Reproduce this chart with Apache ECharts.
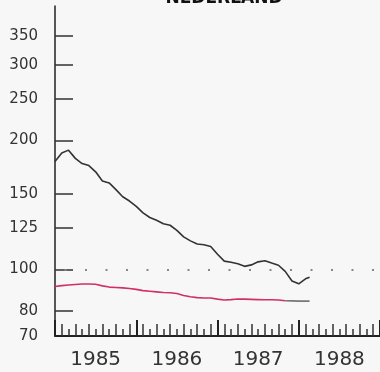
<!DOCTYPE html>
<html>
<head>
<meta charset="utf-8">
<script src="https://cdn.jsdelivr.net/npm/echarts@6/dist/echarts.min.js"></script>
<style>
html,body{margin:0;padding:0;background:#f7f7f7;}
#c{width:380px;height:372px;}
</style>
</head>
<body>
<div id="c"></div>
<script>
// months since Jan 1985
var months = [0,1,2,3,4,5,6,7,8,9,10,11,12,13,14,15,16,17,18,19,20,21,22,23,24,25,26,27,28,29,30,31,32,33,34,35,36,37,37.6];
var blackSeries = [178.5,186.8,189.7,181.5,176.5,174.6,168.9,160.7,159.1,153.5,147.7,144.4,140.3,135.5,132.2,130.2,127.8,126.8,123.4,119.1,116.6,114.7,114.2,113.1,108.5,104.6,104.0,103.1,101.7,102.5,104.2,104.8,103.5,102.3,99.0,94.0,92.6,95.1,95.9];
var redSeries = [91.3,91.7,92.0,92.3,92.5,92.5,92.4,91.6,91.0,90.8,90.6,90.3,89.9,89.3,89.0,88.7,88.4,88.3,87.9,87.0,86.4,86.0,85.8,85.8,85.3,84.9,85.1,85.4,85.3,85.2,85.1,85.0,85.0,84.9,84.6,84.5,84.4,84.4,84.4];
var redGrayFrom = 34; // index where the red line turns grey
var yTickLabels = [70,80,100,125,150,200,250,300,350];
var yearLabels = ['1985','1986','1987','1988'];
var yearLabelPos = [6,18,30,42];
var yearTickPos = [0,12,24,36,48];
var refValue = 100;
var titleText = 'NEDERLAND';

function pairs(xs, ys){ return xs.map(function(x,i){ return [x, ys[i]]; }); }
var oddMonths = [];
for (var m = 1; m < 48; m += 2) oddMonths.push(m);
var redAll = pairs(months, redSeries);

var font = 'DejaVu Sans';
var chart = echarts.init(document.getElementById('c'), null, {renderer:'canvas'});
chart.setOption({
  backgroundColor: '#f7f7f7',
  animation: false,
  title: {
    text: titleText, left: 219, textAlign: 'center', top: -15,
    textStyle: {fontFamily: font, fontWeight: 'bold', fontSize: 17, color: '#111'}
  },
  grid: {left: 55, right: -3, top: 6, bottom: 36, containLabel: false},
  xAxis: [
    {
      type: 'value', min: 0, max: 48, interval: 1, position: 'bottom',
      axisLine: {show: true, lineStyle: {color: '#222', width: 2}},
      axisTick: {show: true, inside: true, length: 7, lineStyle: {color: '#333', width: 1.5}},
      axisLabel: {
        show: true, customValues: yearLabelPos, margin: 14,
        fontFamily: font, fontSize: 20, color: '#333',
        formatter: function(v){ var i = yearLabelPos.indexOf(Math.round(v)); return i >= 0 ? yearLabels[i] : ''; }
      },
      splitLine: {show: false}
    },
    {
      type: 'value', min: 0, max: 48, position: 'bottom', offset: 0,
      axisLine: {show: false},
      axisTick: {show: true, inside: true, length: 12, customValues: oddMonths, lineStyle: {color: '#333', width: 1.5}},
      axisLabel: {show: false},
      splitLine: {show: false}
    },
    {
      type: 'value', min: 0, max: 48, position: 'bottom', offset: 0,
      axisLine: {show: false},
      axisTick: {show: true, inside: true, length: 16, customValues: yearTickPos, lineStyle: {color: '#222', width: 2}},
      axisLabel: {show: false},
      splitLine: {show: false}
    }
  ],
  yAxis: {
    type: 'log', logBase: 10, min: 70, max: 411,
    axisLine: {show: true, lineStyle: {color: '#222', width: 1.5}},
    axisTick: {show: true, inside: true, length: 18, customValues: yTickLabels.slice(1), lineStyle: {color: '#333', width: 1.5}},
    axisLabel: {show: true, customValues: yTickLabels, margin: 17, fontFamily: font, fontSize: 15, color: '#333'},
    splitLine: {show: false}
  },
  series: [
    {
      type: 'line', data: pairs(months, blackSeries), showSymbol: false, smooth: false,
      lineStyle: {color: '#333', width: 1.6}, itemStyle: {color: '#333'},
      markLine: {
        silent: true, symbol: 'none', label: {show: false},
        lineStyle: {type: [2, 18.5], dashOffset: 11, color: '#888', width: 2},
        data: [{yAxis: refValue}]
      }
    },
    {
      type: 'line', data: redAll.slice(0, redGrayFrom + 1), showSymbol: false,
      lineStyle: {color: '#d12f6a', width: 1.6}, itemStyle: {color: '#d12f6a'}
    },
    {
      type: 'line', data: redAll.slice(redGrayFrom), showSymbol: false,
      lineStyle: {color: '#777', width: 1.6}, itemStyle: {color: '#777'}
    }
  ]
});
</script>
</body>
</html>
